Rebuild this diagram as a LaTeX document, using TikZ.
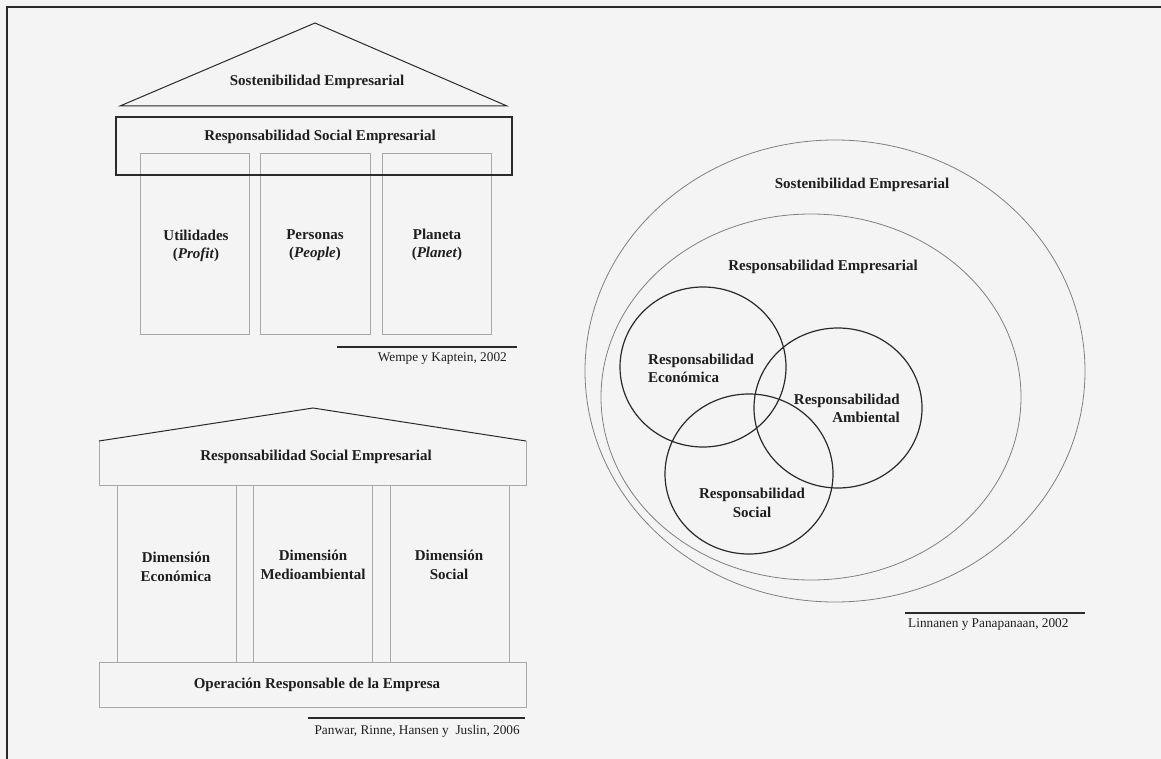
\documentclass[tikz,border=0pt]{standalone}
\usepackage{fontspec}
\setmainfont{Liberation Serif}
\definecolor{bgcol}{HTML}{F4F4F4}
\definecolor{txtcol}{HTML}{1E1E1E}
\definecolor{dark}{HTML}{2A2A2A}
\definecolor{lightline}{HTML}{A8A8A8}
\definecolor{ellline}{HTML}{808080}
\begin{document}
\begin{tikzpicture}[x=1pt,y=-1pt,
  lbl/.style={font=\fontsize{15}{18.5}\selectfont\bfseries, align=center, inner sep=0pt, text=txtcol},
  citetxt/.style={font=\fontsize{13.3}{16}\selectfont, inner sep=0pt, text=txtcol},
  citeline/.style={draw=dark, line width=1.2pt},
  roofline/.style={draw=dark, line width=1pt},
  grayline/.style={draw=lightline, line width=1pt},
  colbox/.style={draw=lightline, line width=1pt, inner sep=0pt},
  ellgray/.style={draw=ellline, line width=0.8pt},
  venn/.style={draw=dark, line width=1.2pt}
]
\fill[bgcol] (0,0) rectangle (1161,759);
\useasboundingbox (0,0) rectangle (1161,759);
% frame
\coordinate (fbl) at (7,759);
\coordinate (ftl) at (7,7);
\coordinate (ftr) at (1161,7);
\draw[line width=2pt, dark] (fbl) -- (ftl) -- (ftr);

% ---------- top-left: Wempe y Kaptein ----------
\coordinate (t1l) at (120,106);
\coordinate (t1a) at (315,23);
\coordinate (t1r) at (507,106);
\draw[roofline] (t1l) -- (t1a) -- (t1r) -- cycle;
\node[lbl] (se1) at (317,82) {Sostenibilidad Empresarial};
\node[colbox, minimum width=109pt, minimum height=180pt] (col1) at (194.5,244) {};
\node[colbox, minimum width=110pt, minimum height=180pt] (col2) at (315,244) {};
\node[colbox, minimum width=109pt, minimum height=180pt] (col3) at (436.5,244) {};
\node[draw=dark, line width=1.3pt, inner sep=0pt, minimum width=396pt, minimum height=58pt] (rse1box) at (314,146) {};
\node[lbl] (rse1) at (320,137) {Responsabilidad Social Empresarial};
\node[lbl] (util) at (196,246) {Utilidades\\(\textit{Profit})};
\node[lbl] (pers) at (315,245) {Personas\\(\textit{People})};
\node[lbl] (plan) at (437,245) {Planeta\\(\textit{Planet})};
\coordinate (c1a) at (337,347);
\coordinate (c1b) at (517,347);
\draw[citeline] (c1a) -- (c1b);
\node[citetxt, anchor=east] (cite1) at (507,359) {Wempe y Kaptein, 2002};

% ---------- bottom-left: Panwar et al. ----------
\coordinate (r2l) at (99,441);
\coordinate (r2a) at (313,408);
\coordinate (r2r) at (526,441);
\coordinate (r2lb) at (99,485);
\coordinate (r2rb) at (526,485);
\draw[grayline] (r2l) -- (r2lb) -- (r2rb) -- (r2r);
\draw[roofline] (r2l) -- (r2a) -- (r2r);
\node[lbl] (rse2) at (316,457) {Responsabilidad Social Empresarial};
\node[colbox, minimum width=119pt, minimum height=177pt] (dcol1) at (176.5,573.5) {};
\node[colbox, minimum width=119pt, minimum height=177pt] (dcol2) at (312.5,573.5) {};
\node[colbox, minimum width=119pt, minimum height=177pt] (dcol3) at (449.5,573.5) {};
\node[colbox, minimum width=427pt, minimum height=45pt] (base2) at (312.5,684.5) {};
\node[lbl] (dimec) at (176,567) {Dimensión\\Económica};
\node[lbl] (dimma) at (313,565) {Dimensión\\Medioambiental};
\node[lbl] (dimso) at (449,565) {Dimensión\\Social};
\node[lbl] (oper) at (317,685) {Operación Responsable de la Empresa};
\coordinate (c2a) at (308,718);
\coordinate (c2b) at (525,718);
\draw[citeline] (c2a) -- (c2b);
\node[citetxt, anchor=east] (cite2) at (520,731) {Panwar, Rinne, Hansen y\ \ Juslin, 2006};

% ---------- right: Linnanen y Panapanaan ----------
\coordinate (eo) at (835,371);
\coordinate (ei) at (811,397);
\draw[ellgray] (eo) ellipse [x radius=250pt, y radius=231pt];
\draw[ellgray] (ei) ellipse [x radius=210pt, y radius=183pt];
\coordinate (vec) at (703,367);
\coordinate (vam) at (838,408);
\coordinate (vso) at (749,474);
\draw[venn] (vec) ellipse [x radius=83pt, y radius=80pt];
\draw[venn] (vam) ellipse [x radius=84pt, y radius=80pt];
\draw[venn] (vso) ellipse [x radius=84pt, y radius=80pt];
\node[lbl] (se3) at (862,185) {Sostenibilidad Empresarial};
\node[lbl] (re3) at (823,267) {Responsabilidad Empresarial};
\node[lbl, align=left, anchor=west] (rec) at (648,368.5) {Responsabilidad\\Económica};
\node[lbl, align=right, anchor=east] (ram) at (900,408.5) {Responsabilidad\\Ambiental};
\node[lbl] (rso) at (752,503) {Responsabilidad\\Social};
\coordinate (c3a) at (905,613);
\coordinate (c3b) at (1085,613);
\draw[citeline] (c3a) -- (c3b);
\node[citetxt, anchor=west] (cite3) at (908,625) {Linnanen y Panapanaan, 2002};
\end{tikzpicture}
\end{document}
